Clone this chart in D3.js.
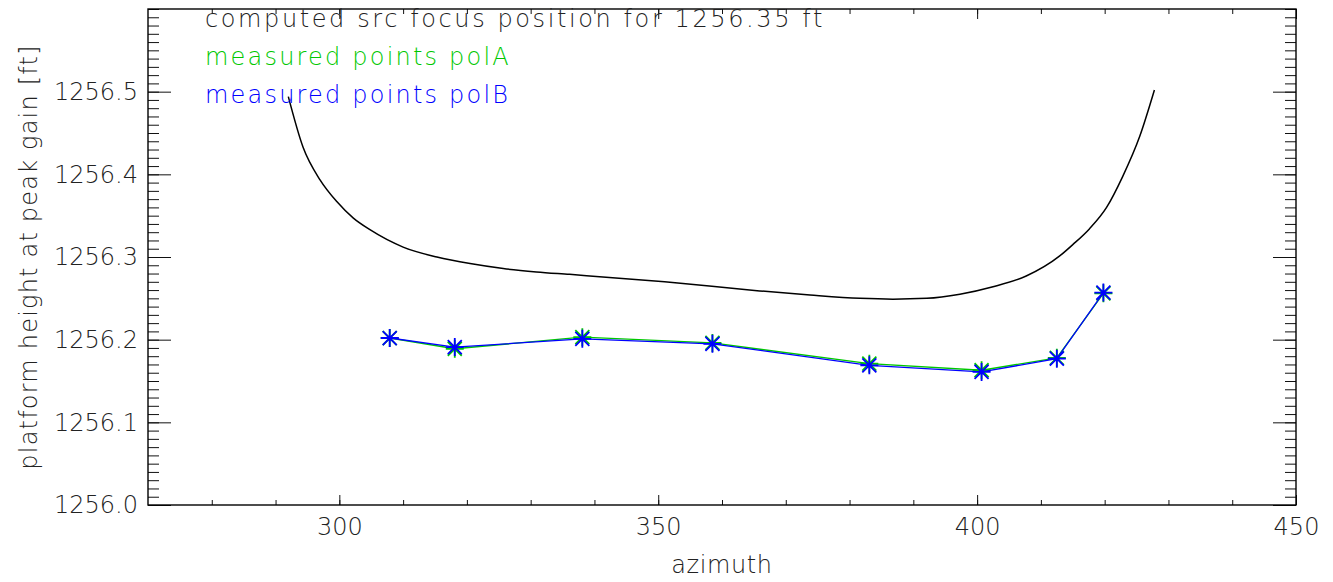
<!DOCTYPE html>
<html>
<head>
<meta charset="utf-8">
<script src="https://cdn.jsdelivr.net/npm/d3@7/dist/d3.min.js"></script>
<style>
    html, body { margin: 0; padding: 0; background: #fff; }
    svg text { font-family: "DejaVu Sans", sans-serif; font-weight: 200; fill: #222; }
</style>
</head>
<body>
<div id="chart"></div>
<script>
// computed src focus curve (azimuth, platform height)
const curveAzimuth = [292.0, 294.3, 297.0, 299.6, 302.2, 304.8, 310.0, 315.3, 320.5, 325.7, 330.9, 336.1,
    351.0, 365.9, 373.8, 381.6, 386.8, 392.1, 397.3, 402.5, 407.7, 412.9, 415.0, 417.6, 420.3, 422.8, 425.5, 427.8];
const curveHeight = [1256.494, 1256.433, 1256.393, 1256.367, 1256.347, 1256.333, 1256.312, 1256.300, 1256.292,
    1256.286, 1256.282, 1256.279, 1256.270, 1256.259, 1256.254, 1256.250, 1256.249, 1256.250, 1256.255, 1256.264,
    1256.277, 1256.301, 1256.315, 1256.334, 1256.360, 1256.397, 1256.446, 1256.502];

// measured points
const measuredAzimuth = [307.9, 318.1, 338.1, 358.5, 383.1, 400.7, 412.5, 419.8];
const heightPolA = [1256.202, 1256.189, 1256.203, 1256.196, 1256.171, 1256.163, 1256.178, 1256.256];
const heightPolB = [1256.202, 1256.191, 1256.201, 1256.195, 1256.169, 1256.161, 1256.177, 1256.257];

const xMajorTicks = [300, 350, 400, 450];
const xMinorTicks = d3.range(280, 450, 10);
const yMajorTicks = [1256.0, 1256.1, 1256.2, 1256.3, 1256.4, 1256.5];
const yMinorTicks = d3.range(0, 61).map(i => 1256 + i / 100);

const legendLabels = ['computed src focus position for 1256.35 ft', 'measured points polA', 'measured points polB'];
const legendColors = ['#222', '#00c800', '#0000ff'];

const width = 1333;
const height = 582;
const margin = { left: 148, top: 9, right: 37, bottom: 77 };

const svg = d3.select('#chart')
    .append('svg')
    .attr('width', width)
    .attr('height', height);

const xScale = d3.scaleLinear()
    .domain([270, 450])
    .range([margin.left, width - margin.right]);
const yScale = d3.scaleLinear()
    .domain([1256.0, 1256.6])
    .range([height - margin.bottom, margin.top]);

const plotW = width - margin.left - margin.right;
const plotH = height - margin.top - margin.bottom;

function drawAxis(axis, transform, labels) {
    const g = svg.append('g')
        .attr('transform', transform)
        .call(axis);
    g.select('.domain').remove();
    g.selectAll('line').attr('stroke', '#111').attr('stroke-width', 1);
    if (labels) {
        g.selectAll('text').attr('font-size', 24).attr('fill', '#222');
    } else {
        g.selectAll('text').remove();
    }
    return g;
}

// bottom + top axes
drawAxis(d3.axisBottom(xScale).tickValues(xMinorTicks).tickSize(-5), `translate(0,${height - margin.bottom})`, false);
drawAxis(d3.axisBottom(xScale).tickValues(xMajorTicks).tickSize(-10).tickPadding(13).tickFormat(d3.format('d')),
    `translate(0,${height - margin.bottom})`, true);
drawAxis(d3.axisTop(xScale).tickValues(xMinorTicks).tickSize(-5), `translate(0,${margin.top})`, false);
drawAxis(d3.axisTop(xScale).tickValues(xMajorTicks).tickSize(-10), `translate(0,${margin.top})`, false);

// left + right axes
drawAxis(d3.axisLeft(yScale).tickValues(yMinorTicks).tickSize(-11), `translate(${margin.left},0)`, false);
drawAxis(d3.axisLeft(yScale).tickValues(yMajorTicks).tickSize(-23).tickPadding(10).tickFormat(d3.format('.1f')),
    `translate(${margin.left},0)`, true);
drawAxis(d3.axisRight(yScale).tickValues(yMinorTicks).tickSize(-11), `translate(${width - margin.right},0)`, false);
drawAxis(d3.axisRight(yScale).tickValues(yMajorTicks).tickSize(-23), `translate(${width - margin.right},0)`, false);

// frame
svg.append('rect')
    .attr('x', margin.left)
    .attr('y', margin.top)
    .attr('width', plotW)
    .attr('height', plotH)
    .attr('fill', 'none')
    .attr('stroke', '#000')
    .attr('stroke-width', 1.4);

// axis titles
svg.append('text')
    .attr('x', margin.left + plotW / 2)
    .attr('y', 573)
    .attr('text-anchor', 'middle')
    .attr('font-size', 24)
    .attr('letter-spacing', 0.6)
    .text('azimuth');

svg.append('text')
    .attr('transform', `translate(37,${margin.top + plotH / 2}) rotate(-90)`)
    .attr('text-anchor', 'middle')
    .attr('font-size', 24)
    .attr('letter-spacing', 1.2)
    .text('platform height at peak gain [ft]');

// computed curve
const curveLine = d3.line()
    .x((d, i) => xScale(curveAzimuth[i]))
    .y(d => yScale(d))
    .curve(d3.curveMonotoneX);

svg.append('path')
    .datum(curveHeight)
    .attr('fill', 'none')
    .attr('stroke', '#000')
    .attr('stroke-width', 1.5)
    .attr('d', curveLine);

// measured series
const pointLine = d3.line()
    .x((d, i) => xScale(measuredAzimuth[i]))
    .y(d => yScale(d));

const star = 'M-9,0H9M0,-9V9M-7,-7L7,7M-7,7L7,-7';

function drawSeries(values, color) {
    svg.append('path')
        .datum(values)
        .attr('fill', 'none')
        .attr('stroke', color)
        .attr('stroke-width', 1.3)
        .attr('d', pointLine);

    svg.append('g')
        .selectAll('path')
        .data(values)
        .enter()
        .append('path')
        .attr('transform', (d, i) => `translate(${xScale(measuredAzimuth[i])},${yScale(d)})`)
        .attr('d', star)
        .attr('fill', 'none')
        .attr('stroke', color)
        .attr('stroke-width', 1.8);
}

drawSeries(heightPolA, '#00c800');
drawSeries(heightPolB, '#0000ff');

// legend text
svg.append('g')
    .selectAll('text')
    .data(legendLabels)
    .enter()
    .append('text')
    .attr('x', 205)
    .attr('y', (d, i) => 27 + i * 38)
    .attr('font-size', 24)
    .attr('letter-spacing', (d, i) => i === 0 ? 2.6 : 2.2)
    .style('fill', (d, i) => legendColors[i])
    .text(d => d);
</script>
</body>
</html>
